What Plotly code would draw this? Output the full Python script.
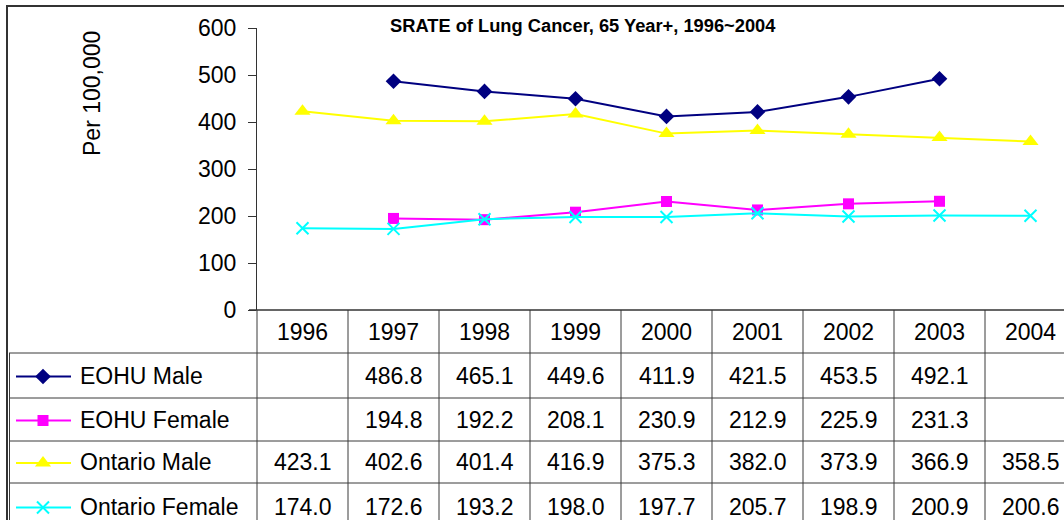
import plotly.graph_objects as go

years = ["1996", "1997", "1998", "1999", "2000", "2001", "2002", "2003", "2004"]
eohu_male = [None, 486.8, 465.1, 449.6, 411.9, 421.5, 453.5, 492.1, None]
eohu_female = [None, 194.8, 192.2, 208.1, 230.9, 212.9, 225.9, 231.3, None]
ontario_male = [423.1, 402.6, 401.4, 416.9, 375.3, 382.0, 373.9, 366.9, 358.5]
ontario_female = [174.0, 172.6, 193.2, 198.0, 197.7, 205.7, 198.9, 200.9, 200.6]

series_names = ["EOHU Male", "EOHU Female", "Ontario Male", "Ontario Female"]
series_values = [eohu_male, eohu_female, ontario_male, ontario_female]
colors = ["#000080", "#FF00FF", "#FFFF00", "#00FFFF"]
symbols = ["diamond", "square", "triangle-up", "x-thin"]
msizes = [12, 11, 14, 12]

W, H = 1064, 520
PL, PT, PB = 257, 28, 310   # plot area in pixels
COLW = 91.0
x_lo = -0.5
x_hi = x_lo + (W - PL) / COLW
y_max = 600.0

FONT = "Liberation Sans, Arial, sans-serif"
FS = 23

def pxx(px):
    return px / W

def pxy(py):
    return 1 - py / H

fig = go.Figure()
xi = list(range(len(years)))
for name, vals, c, s, ms in zip(series_names, series_values, colors, symbols, msizes):
    fig.add_trace(go.Scatter(
        x=xi, y=vals, mode="lines+markers", name=name,
        line=dict(color=c, width=2),
        marker=dict(symbol=s, size=ms, color=c,
                    line=dict(color=c, width=2 if s == "x-thin" else 0)),
        connectgaps=False, showlegend=False, cliponaxis=False,
        xaxis="x", yaxis="y",
    ))

row_edges = [310, 353, 398, 441, 483, 530]
row_centers = [(row_edges[i] + row_edges[i + 1]) / 2 for i in range(len(row_edges) - 1)]

shapes = []
LC = "#3a3a3a"
# outer chart border
shapes.append(dict(type="line", xref="paper", yref="paper", x0=pxx(6), x1=pxx(W + 5),
                   y0=pxy(6), y1=pxy(6), line=dict(color="#333333", width=2)))
shapes.append(dict(type="line", xref="paper", yref="paper", x0=pxx(7), x1=pxx(7),
                   y0=pxy(5), y1=pxy(H + 5), line=dict(color="#333333", width=2)))
# table left border
shapes.append(dict(type="line", xref="paper", yref="paper", x0=pxx(9.5), x1=pxx(9.5),
                   y0=pxy(353), y1=pxy(H + 5), line=dict(color=LC, width=1)))
# horizontal table rules
for ry in row_edges[1:-1]:
    shapes.append(dict(type="line", xref="paper", yref="paper", x0=pxx(9), x1=pxx(W + 5),
                       y0=pxy(ry), y1=pxy(ry), line=dict(color=LC, width=1)))
# vertical column rules (through the x scale)
for k in range(1, len(years) + 1):
    xv = k - 0.5
    shapes.append(dict(type="line", xref="x", yref="paper", x0=xv, x1=xv,
                       y0=pxy(PB), y1=pxy(H + 5), line=dict(color=LC, width=1)))
shapes.append(dict(type="line", xref="paper", yref="paper", x0=pxx(PL), x1=pxx(PL),
                   y0=pxy(PB), y1=pxy(H + 5), line=dict(color=LC, width=1)))
# x-axis base line (top of table) extending to the 0 tick
shapes.append(dict(type="line", xref="paper", yref="paper", x0=pxx(249), x1=pxx(W + 5),
                   y0=pxy(PB), y1=pxy(PB), line=dict(color="#333333", width=1.5)))

annotations = []
annotations.append(dict(text="<b>SRATE of Lung Cancer, 65 Year+, 1996~2004</b>",
                        xref="paper", yref="paper", x=pxx(583), y=pxy(25),
                        xanchor="center", yanchor="middle", showarrow=False,
                        font=dict(family="Liberation Sans Narrow, Arial Narrow, Liberation Sans, Arial",
                                  size=18.3, color="#000")))
annotations.append(dict(text="Per 100,000", xref="paper", yref="paper", x=pxx(92), y=pxy(94),
                        xanchor="center", yanchor="middle", textangle=-90, showarrow=False,
                        font=dict(family=FONT, size=FS, color="#000")))
for i, yr in enumerate(years):
    annotations.append(dict(text=yr, xref="x", yref="paper", x=i, y=pxy(row_centers[0]),
                            xanchor="center", yanchor="middle", showarrow=False,
                            font=dict(family=FONT, size=FS, color="#000")))
for r, (name, vals, c) in enumerate(zip(series_names, series_values, colors)):
    yc = row_centers[r + 1]
    annotations.append(dict(text=name, xref="paper", yref="paper", x=pxx(78), y=pxy(yc),
                            xanchor="left", yanchor="middle", showarrow=False,
                            font=dict(family=FONT, size=FS, color="#000")))
    shapes.append(dict(type="line", xref="paper", yref="paper", x0=pxx(16), x1=pxx(71),
                       y0=pxy(yc + 1), y1=pxy(yc + 1), line=dict(color=c, width=2)))
    for i, v in enumerate(vals):
        if v is None:
            continue
        annotations.append(dict(text=f"{v:.1f}", xref="x", yref="paper", x=i, y=pxy(yc),
                                xanchor="center", yanchor="middle", showarrow=False,
                                font=dict(family=FONT, size=FS, color="#000")))
    # legend key marker on a full-figure pixel overlay axis
    fig.add_trace(go.Scatter(
        x=[43], y=[yc + 1], mode="markers", showlegend=False,
        hoverinfo="skip", cliponaxis=False, xaxis="x2", yaxis="y2",
        marker=dict(symbol=symbols[r], size=msizes[r], color=c,
                    line=dict(color=c, width=2 if symbols[r] == "x-thin" else 0)),
    ))

fig.update_layout(
    template="none",
    width=W, height=H, autosize=False,
    margin=dict(l=0, r=0, t=0, b=0, pad=0, autoexpand=False),
    paper_bgcolor="white", plot_bgcolor="rgba(0,0,0,0)",
    showlegend=False,
    shapes=shapes, annotations=annotations,
    xaxis=dict(domain=[pxx(PL), 1], range=[x_lo, x_hi], showticklabels=False, ticks="",
               showgrid=False, zeroline=False, showline=False, fixedrange=True,
               automargin=False),
    yaxis=dict(domain=[pxy(PB), pxy(PT)], range=[0, y_max],
               tickvals=[0, 100, 200, 300, 400, 500, 600],
               ticks="outside", ticklen=8, tickcolor="#333333", tickwidth=1,
               showline=True, linecolor="#333333", linewidth=1,
               showgrid=False, zeroline=False, ticklabelstandoff=7, automargin=False,
               tickfont=dict(family=FONT, size=FS, color="#000"), fixedrange=True),
    xaxis2=dict(domain=[0, 1], range=[0, W], visible=False, fixedrange=True, automargin=False),
    yaxis2=dict(domain=[0, 1], range=[H, 0], visible=False, fixedrange=True, automargin=False),
)

fig.write_html("out.html", config={"displayModeBar": False},
               post_script="document.body.style.margin='0';document.body.style.overflow='hidden';")
